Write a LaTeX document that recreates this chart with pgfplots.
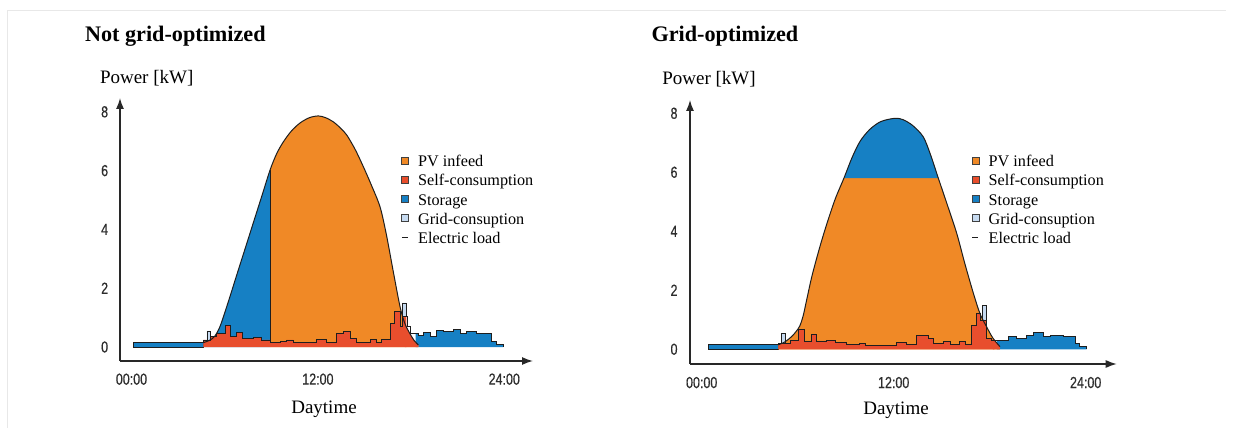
\documentclass[border=0pt]{standalone}
\usepackage{fontspec}
\setmainfont{Liberation Serif}
\newfontfamily\tickfont[FakeStretch=0.78, FakeBold=0.4]{Liberation Sans}
\usepackage{pgfplots}
\pgfplotsset{compat=1.18}
\usetikzlibrary{arrows.meta}
\definecolor{pvorange}{RGB}{240,137,38}
\definecolor{selfred}{RGB}{232,78,45}
\definecolor{storblue}{RGB}{22,128,196}
\definecolor{gridlight}{RGB}{198,218,240}
\definecolor{outl}{RGB}{30,30,30}
\definecolor{axisgray}{RGB}{40,40,40}
\definecolor{ticktext}{RGB}{45,45,45}
\pgfplotsset{
  pvstyle/.style={
    scale only axis, clip=false,
    axis lines=left,
    axis line style={line width=1.3pt, draw=axisgray, -{Latex[length=11pt,width=8pt]}},
    xtick={0,12,24}, xticklabels={00:00,12:00,24:00},
    ytick={0,2,4,6,8}, yticklabels={0,2,4,6,8},
    major tick length=0pt, tick style={draw=none},
    tick label style={font=\tickfont\fontsize{16}{17}\selectfont, text=ticktext, inner sep=0pt},
    every axis title/.style={at={(rel axis cs:0,1)}, anchor=base west, font=\bfseries\fontsize{22.2}{25}\selectfont},
    every axis x label/.style={at={(rel axis cs:0,0)}, anchor=base, font=\fontsize{19}{22}\selectfont},
    every axis y label/.style={at={(rel axis cs:0,1)}, anchor=base, font=\fontsize{19}{22}\selectfont},
    legend cell align=left,
    legend style={draw=none, fill=none, inner sep=0pt, outer sep=0pt, anchor=north west, row sep=2.2pt,
      font=\fontsize{16.2}{18}\selectfont,
      nodes={inner sep=0pt, outer sep=0pt, text height=14.5pt, text depth=2.5pt},
      /tikz/every odd column/.append style={column sep=9.5pt}},
  },
  areasq/.style={legend image code/.code={\draw[fill=#1, draw=black!75, line width=0.6pt] (0pt,-3.5pt) rectangle (7pt,3.5pt);}},
  loadimg/.style={legend image code/.code={\path[draw=none, fill=none] (0pt,-3.5pt) rectangle (7pt,3.5pt); \draw[outl, line width=1.2pt] (0.5pt,0pt) -- (6.5pt,0pt);}},
}
\begin{document}
\begin{tikzpicture}
\useasboundingbox (0pt,0pt) rectangle (1233pt,428pt);
\draw[black!9, line width=1pt] (7pt,0pt) -- (7pt,417pt) -- (1226pt,417pt);

% ---------------- Left: not grid-optimized ----------------
\begin{axis}[pvstyle,
  at={(120pt,67pt)}, anchor=south west, width=413pt, height=263pt,
  xmin=-0.74, xmax=25.85, ymin=-0.476, ymax=8.47,
  xticklabel style={anchor=north, yshift=-12.3pt},
  yticklabel style={anchor=east, xshift=-11.7pt},
  title={Not grid-optimized}, title style={xshift=-38.5pt, yshift=56.3pt},
  xlabel={Daytime}, xlabel style={xshift=204pt, yshift=-52.3pt},
  ylabel={Power [kW]}, ylabel style={xshift=26.7pt, yshift=14pt},
  legend style={at={(0.6804,0.7939)}},
]
% morning storage
\addplot[fill=storblue, draw=outl, line width=0.7pt, forget plot] coordinates {(0.12,0) (0.12,0.15) (4.63,0.15) (4.63,0) (0.12,0)};
% evening storage
\addplot[const plot, fill=storblue, draw=none, forget plot] coordinates {
 (18.3,0) (18.3,0.45) (18.47,0.4) (18.79,0.48) (19.22,0.35) (19.65,0.55) (20.08,0.52) (20.72,0.6)
 (21.15,0.45) (21.58,0.52) (22.23,0.45) (23.2,0.18) (23.52,0.1) (23.95,0.1) (23.95,0)};
% PV: storage part and infeed part
\addplot[smooth, fill=storblue, draw=none, forget plot] coordinates {
 (4.63,0.15) (5.0,0.22) (5.35,0.36) (5.7,0.7) (6.13,1.37) (6.45,1.9) (6.77,2.44) (7.3,3.32)
 (7.84,4.22) (8.4,5.15) (8.92,6.02)} \closedcycle;
\addplot[smooth, fill=pvorange, draw=none, forget plot] coordinates {
 (8.92,6.02) (9.35,6.58) (9.78,6.98) (10.3,7.35) (10.85,7.62) (11.45,7.8)
 (12.03,7.86) (12.5,7.8) (12.99,7.66) (13.45,7.45) (13.86,7.21) (14.4,6.72) (14.93,6.13) (15.45,5.5)
 (16.0,4.77) (16.4,3.85) (16.86,2.55) (17.29,1.37) (17.6,0.8) (17.93,0.45) (18.2,0.22) (18.47,0.07)} \closedcycle;
% self-consumption
\addplot[const plot, fill=selfred, draw=none, forget plot] coordinates {
 (4.63,0) (4.63,0.24) (5.1,0.35) (5.48,0.45) (6.02,0.72) (6.34,0.35) (6.77,0.48) (7.16,0.29) (7.84,0.33)
 (8.38,0.24) (8.92,0.15) (9.56,0.18) (9.99,0.24) (10.42,0.15) (11.92,0.26) (12.56,0.15) (13.21,0.45)
 (13.64,0.52) (14.07,0.29) (14.5,0.15) (15.36,0.26) (15.79,0.15) (16.11,0.26) (16.65,0.8) (16.91,1.22)
 (17.3,0.7) (17.45,1.05) (17.7,1.05) (17.7,0)};
\addplot[smooth, fill=selfred, draw=none, forget plot] coordinates {
 (17.6,0.8) (17.93,0.45) (18.2,0.22) (18.47,0.07)} \closedcycle;
% grid consumption
\addplot[fill=gridlight, draw=outl, line width=0.6pt, forget plot] coordinates {(4.86,0.24) (4.86,0.55) (5.05,0.55) (5.05,0.24) (4.86,0.24)};
\addplot[fill=gridlight, draw=outl, line width=0.6pt, forget plot] coordinates {(17.42,1.05) (17.42,1.5) (17.7,1.5) (17.7,1.05) (17.42,1.05)};
% outlines
\addplot[draw=outl, line width=1pt, smooth, forget plot] coordinates {
 (4.63,0.15) (5.0,0.22) (5.35,0.36) (5.7,0.7) (6.13,1.37) (6.45,1.9) (6.77,2.44) (7.3,3.32)
 (7.84,4.22) (8.4,5.15) (8.92,6.02) (9.35,6.58) (9.78,6.98) (10.3,7.35) (10.85,7.62) (11.45,7.8)
 (12.03,7.86) (12.5,7.8) (12.99,7.66) (13.45,7.45) (13.86,7.21) (14.4,6.72) (14.93,6.13) (15.45,5.5)
 (16.0,4.77) (16.4,3.85) (16.86,2.55) (17.29,1.37) (17.6,0.8) (17.93,0.45) (18.2,0.22) (18.47,0.07)};
\addplot[draw=outl, line width=1pt, forget plot] coordinates {(8.92,0.15) (8.92,6.02)};
\addplot[const plot, draw=outl, line width=0.9pt, forget plot] coordinates {
 (0.12,0.15) (4.63,0.24) (5.1,0.35) (5.48,0.45) (6.02,0.72) (6.34,0.35) (6.77,0.48) (7.16,0.29) (7.84,0.33)
 (8.38,0.24) (8.92,0.15) (9.56,0.18) (9.99,0.24) (10.42,0.15) (11.92,0.26) (12.56,0.15) (13.21,0.45)
 (13.64,0.52) (14.07,0.29) (14.5,0.15) (15.36,0.26) (15.79,0.15) (16.11,0.26) (16.65,0.8) (16.91,1.22)
 (17.3,0.7) (17.45,1.05) (17.75,0.69) (17.95,0.45) (18.47,0.4) (18.79,0.48) (19.22,0.35) (19.65,0.55)
 (20.08,0.52) (20.72,0.6) (21.15,0.45) (21.58,0.52) (22.23,0.45) (23.2,0.18) (23.52,0.1) (23.95,0.1) (23.95,0)};
\addlegendimage{areasq=pvorange}\addlegendentry{PV infeed}
\addlegendimage{areasq=selfred}\addlegendentry{Self-consumption}
\addlegendimage{areasq=storblue}\addlegendentry{Storage}
\addlegendimage{areasq=gridlight}\addlegendentry{Grid-consuption}
\addlegendimage{loadimg}\addlegendentry{Electric load}
\end{axis}

% ---------------- Right: grid-optimized ----------------
\begin{axis}[pvstyle,
  at={(690pt,64pt)}, anchor=south west, width=426.7pt, height=264pt,
  xmin=-0.73, xmax=25.94, ymin=-0.5, ymax=8.45,
  xticklabel style={anchor=north, yshift=-12.7pt},
  yticklabel style={anchor=east, xshift=-12.3pt},
  title={Grid-optimized}, title style={xshift=-42pt, yshift=58.3pt},
  xlabel={Daytime}, xlabel style={xshift=206pt, yshift=-50pt},
  ylabel={Power [kW]}, ylabel style={xshift=19pt, yshift=15pt},
  legend style={at={(0.660,0.8023)}},
]
\addplot[fill=storblue, draw=outl, line width=0.7pt, forget plot] coordinates {(0.41,0) (0.41,0.15) (4.79,0.15) (4.79,0) (0.41,0)};
\addplot[const plot, fill=storblue, draw=none, forget plot] coordinates {
 (18.45,0) (18.45,0.3) (19.16,0.44) (19.69,0.36) (20.31,0.48) (20.73,0.56) (21.35,0.44) (21.77,0.48)
 (22.6,0.44) (23.33,0.2) (23.64,0.1) (24.06,0.1) (24.06,0)};
\addplot[smooth, fill=pvorange, draw=none, forget plot] coordinates {
 (4.79,0.15) (5.2,0.25) (5.6,0.42) (5.9,0.6) (6.14,0.8) (6.35,1.15) (6.56,1.67) (6.9,2.5)
 (7.39,3.48) (7.85,4.3) (8.35,5.1) (8.89,5.8) (9.4,6.5) (9.9,7.05) (10.5,7.45) (11.2,7.72)
 (12.08,7.83) (12.6,7.78) (13.2,7.58) (13.85,7.2) (14.3,6.6) (14.79,5.8) (15.35,4.9) (15.94,3.93)
 (16.45,2.9) (16.98,1.9) (17.4,1.2) (17.8,0.77) (18.2,0.38) (18.64,0.09)} \closedcycle;
\addplot[smooth, fill=storblue, draw=none, forget plot] coordinates {
 (8.89,5.8) (9.4,6.5) (9.9,7.05) (10.5,7.45) (11.2,7.72)
 (12.08,7.83) (12.6,7.78) (13.2,7.58) (13.85,7.2) (14.3,6.6) (14.79,5.8)};
\addplot[const plot, fill=selfred, draw=none, forget plot] coordinates {
 (4.79,0) (4.79,0.2) (5.52,0.3) (6.04,0.68) (6.4,0.25) (6.87,0.5) (7.19,0.28) (7.81,0.3) (8.33,0.22)
 (9.06,0.15) (9.89,0.2) (10.21,0.13) (12.19,0.22) (12.81,0.15) (13.43,0.48) (14.16,0.36) (14.48,0.2)
 (15.1,0.26) (15.52,0.15) (16.14,0.26) (16.46,0.15) (16.87,0.82) (17.15,1.2) (17.45,0.99) (17.8,0.37)
 (18.12,0.3) (18.3,0.3) (18.3,0)};
\addplot[smooth, fill=selfred, draw=none, forget plot] coordinates {
 (18.2,0.38) (18.64,0.09)} \closedcycle;
\addplot[fill=gridlight, draw=outl, line width=0.6pt, forget plot] coordinates {(5.0,0.2) (5.0,0.54) (5.2,0.54) (5.2,0.2) (5.0,0.2)};
\addplot[fill=gridlight, draw=outl, line width=0.6pt, forget plot] coordinates {(17.55,0.99) (17.55,1.48) (17.8,1.48) (17.8,0.99) (17.55,0.99)};
\addplot[draw=outl, line width=1pt, smooth, forget plot] coordinates {
 (4.79,0.15) (5.2,0.25) (5.6,0.42) (5.9,0.6) (6.14,0.8) (6.35,1.15) (6.56,1.67) (6.9,2.5)
 (7.39,3.48) (7.85,4.3) (8.35,5.1) (8.89,5.8) (9.4,6.5) (9.9,7.05) (10.5,7.45) (11.2,7.72)
 (12.08,7.83) (12.6,7.78) (13.2,7.58) (13.85,7.2) (14.3,6.6) (14.79,5.8) (15.35,4.9) (15.94,3.93)
 (16.45,2.9) (16.98,1.9) (17.4,1.2) (17.8,0.77) (18.2,0.38) (18.64,0.09)};
\addplot[const plot, draw=outl, line width=0.9pt, forget plot] coordinates {
 (0.41,0.15) (4.79,0.2) (5.52,0.3) (6.04,0.68) (6.4,0.25) (6.87,0.5) (7.19,0.28) (7.81,0.3) (8.33,0.22)
 (9.06,0.15) (9.89,0.2) (10.21,0.13) (12.19,0.22) (12.81,0.15) (13.43,0.48) (14.16,0.36) (14.48,0.2)
 (15.1,0.26) (15.52,0.15) (16.14,0.26) (16.46,0.15) (16.87,0.82) (17.15,1.2) (17.45,0.99) (17.8,0.37)
 (18.12,0.3) (19.16,0.44) (19.69,0.36) (20.31,0.48) (20.73,0.56) (21.35,0.44) (21.77,0.48)
 (22.6,0.44) (23.33,0.2) (23.64,0.1) (24.06,0.1) (24.06,0)};
\addlegendimage{areasq=pvorange}\addlegendentry{PV infeed}
\addlegendimage{areasq=selfred}\addlegendentry{Self-consumption}
\addlegendimage{areasq=storblue}\addlegendentry{Storage}
\addlegendimage{areasq=gridlight}\addlegendentry{Grid-consuption}
\addlegendimage{loadimg}\addlegendentry{Electric load}
\end{axis}
\end{tikzpicture}
\end{document}
